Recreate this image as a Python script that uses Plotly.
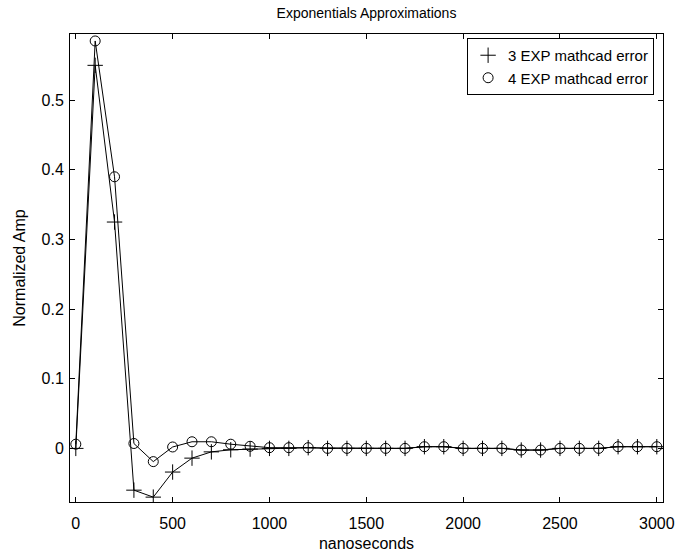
import plotly.graph_objects as go

ns = list(range(0, 3001, 100))
exp3 = [0.0, 0.55, 0.325, -0.06, -0.07, -0.034, -0.014, -0.005, -0.002, -0.001,
        0.0, 0.0, 0.001, 0.0, 0.0, 0.0, 0.0, 0.0, 0.0024, 0.0024,
        0.0, 0.0, 0.0, -0.0024, -0.0024, 0.0, 0.0, 0.0, 0.0024, 0.0024, 0.0024]
exp4 = [0.006, 0.585, 0.39, 0.007, -0.019, 0.002, 0.0095, 0.0095, 0.006, 0.003,
        0.001, 0.001, 0.001, 0.0, 0.0, 0.0, 0.0, 0.0, 0.0024, 0.0024,
        0.0, 0.0, 0.0, -0.0024, -0.0024, 0.0, 0.0, 0.0, 0.0024, 0.0024, 0.0024]
names = ["3 EXP mathcad error", "4 EXP mathcad error"]
x_ticks = [0, 500, 1000, 1500, 2000, 2500, 3000]
y_ticks = [0, 0.1, 0.2, 0.3, 0.4, 0.5]

FONT = "Liberation Sans, Arial, Helvetica, sans-serif"
FS = 16

fig = go.Figure()
for ys in (exp3, exp4):
    fig.add_trace(go.Scatter(x=ns, y=ys, mode="lines",
                             line=dict(color="black", width=1),
                             showlegend=False, hoverinfo="skip"))
fig.add_trace(go.Scatter(x=ns, y=exp3, mode="markers", name=names[0],
                         marker=dict(symbol="cross-thin-open", size=11,
                                     color="black", line=dict(color="black", width=1))))
fig.add_trace(go.Scatter(x=ns, y=exp4, mode="markers", name=names[1],
                         marker=dict(symbol="circle-open", size=10,
                                     color="black", line=dict(color="black", width=1))))

axis_common = dict(showline=True, linecolor="black", linewidth=1, mirror="ticks",
                   ticks="inside", ticklen=5, tickcolor="black", tickwidth=1,
                   showgrid=False, zeroline=False, automargin=False,
                   tickfont=dict(family=FONT, size=FS, color="black"))

fig.update_layout(
    width=693, height=554,
    margin=dict(l=70, r=30, t=34, b=52),
    paper_bgcolor="white", plot_bgcolor="white",
    font=dict(family=FONT, size=FS, color="black"),
    title=dict(text="Exponentials Approximations", xref="paper", x=0.5,
               xanchor="center", y=0.9765, yanchor="middle",
               font=dict(family=FONT, size=14)),
    xaxis=dict(range=[-30, 3032], tickvals=x_ticks, ticklabelstandoff=7,
               title=dict(text="nanoseconds", standoff=6, font=dict(size=FS)),
               **axis_common),
    yaxis=dict(range=[-0.077, 0.595], tickvals=y_ticks, ticklabelstandoff=2,
               title=dict(text="Normalized Amp", standoff=11, font=dict(size=FS)),
               **axis_common),
    legend=dict(x=0.985, y=0.9915, xanchor="right", yanchor="top",
                bordercolor="black", borderwidth=1, bgcolor="white",
                font=dict(family=FONT, size=15), tracegroupgap=0),
)

# remove the browser's default body margin so the figure sits at the page origin
fig.write_html("out.html", config={"displayModeBar": False},
               post_script="document.body.style.margin='0';")
